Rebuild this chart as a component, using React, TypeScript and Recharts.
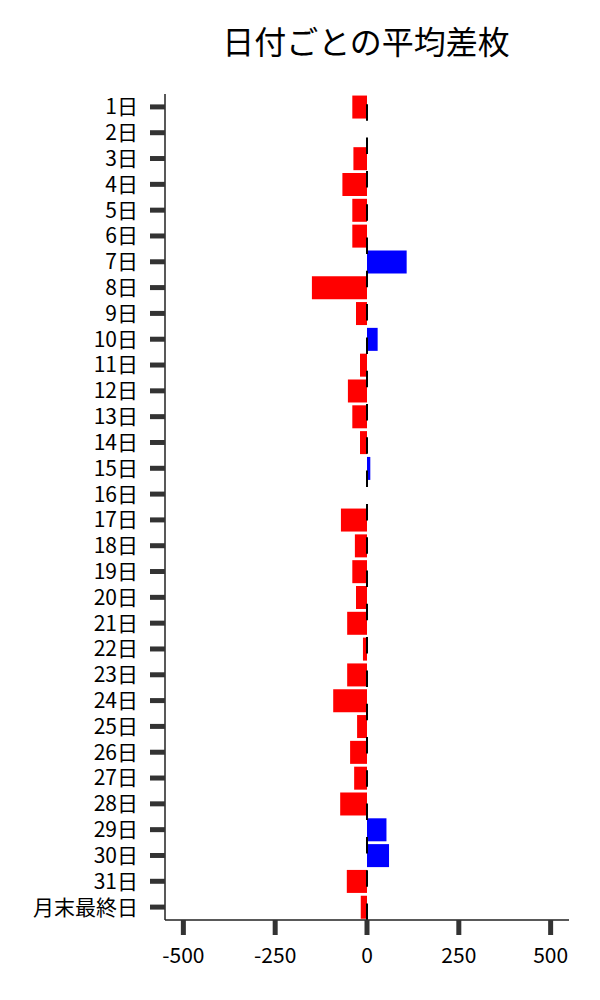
import React from 'react';
import { BarChart, Bar, XAxis, YAxis, Cell, ReferenceLine } from 'recharts';

const days = [
  '1日', '2日', '3日', '4日', '5日', '6日', '7日', '8日', '9日', '10日',
  '11日', '12日', '13日', '14日', '15日', '16日', '17日', '18日', '19日', '20日',
  '21日', '22日', '23日', '24日', '25日', '26日', '27日', '28日', '29日', '30日',
  '31日', '月末最終日',
];

const avgDiff = [
  -40, 0, -37, -67, -40, -40, 108, -150, -30, 29,
  -19, -52, -40, -19, 9, 0, -71, -33, -40, -30,
  -54, -11, -54, -92, -27, -46, -35, -73, 53, 60,
  -55, -17,
];

const xTicks = [-500, -250, 0, 250, 500];

const data = days.map((day, i) => ({ day, value: avgDiff[i] }));

const FONT = '"Noto Sans CJK JP", "Noto Sans", sans-serif';

export default function App() {
  return (
    <div style={{ position: 'absolute', left: 0, top: 0, width: 600, height: 1000, fontFamily: FONT }}>
      <div
        style={{
          position: 'absolute',
          left: 166,
          width: 400,
          top: 18,
          textAlign: 'center',
          fontSize: 32,
          lineHeight: '44px',
          color: '#000',
        }}
      >
        日付ごとの平均差枚
      </div>
      <BarChart
        width={600}
        height={1000}
        data={data}
        layout="vertical"
        margin={{ top: 94, right: 31, left: 0, bottom: 0 }}
        barCategoryGap="6%"
      >
        <XAxis
          type="number"
          domain={[-550, 550]}
          ticks={xTicks}
          allowDataOverflow
          height={80}
          tickSize={15}
          tickMargin={13}
          axisLine={{ stroke: '#222', strokeWidth: 1.5 }}
          tickLine={{ stroke: '#333', strokeWidth: 5 }}
          tick={{ fill: '#000', fontSize: 21, fontFamily: FONT }}
        />
        <YAxis
          type="category"
          dataKey="day"
          width={165}
          interval={0}
          tickSize={15}
          tickMargin={12}
          axisLine={{ stroke: '#222', strokeWidth: 1.5 }}
          tickLine={{ stroke: '#333', strokeWidth: 5 }}
          tick={{ fill: '#000', fontSize: 21, fontFamily: FONT }}
        />
        <Bar dataKey="value" isAnimationActive={false}>
          {data.map((d) => (
            <Cell key={d.day} fill={d.value >= 0 ? '#0000ff' : '#ff0000'} />
          ))}
        </Bar>
        <ReferenceLine x={0} stroke="#000" strokeWidth={2} strokeDasharray="16.5 16.8" />
      </BarChart>
    </div>
  );
}
